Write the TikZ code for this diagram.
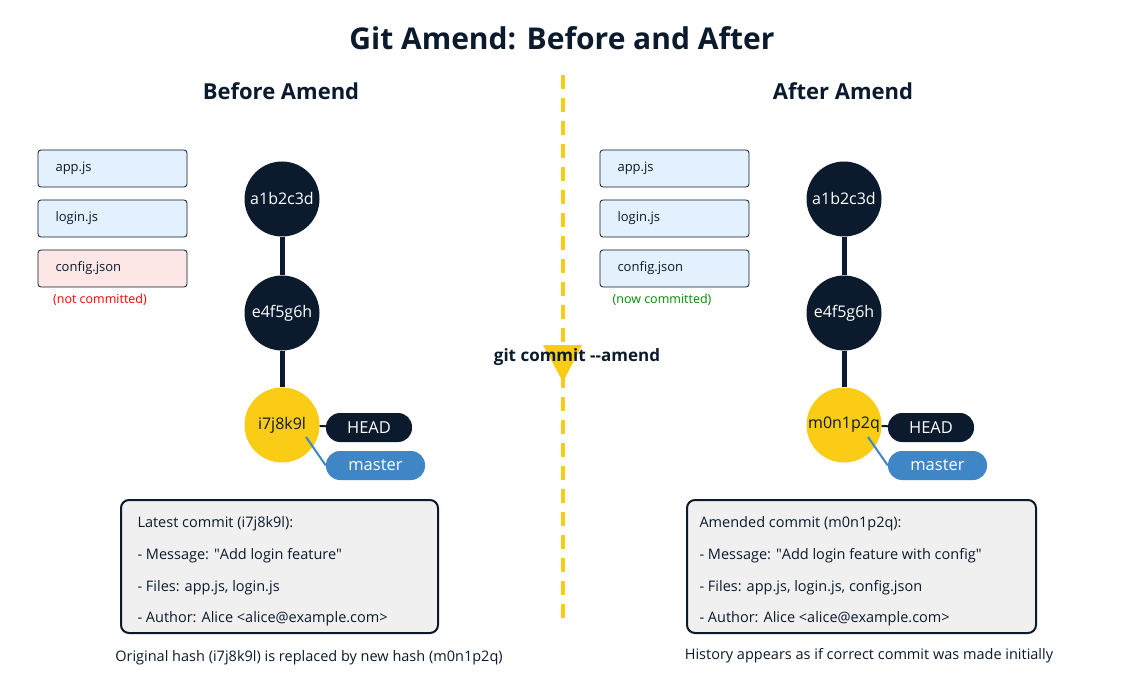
\documentclass[tikz,border=0pt]{standalone}
\usepackage{fontspec}
\setmainfont{Open Sans}
\newfontface\nqface{Open Sans}
\newcommand{\dq}{{\nqface"}}
\begin{document}
\begin{tikzpicture}[x=1pt,y=-1pt,
  dk/.style={fill=dark,draw=none,circle,minimum size=75pt,inner sep=0pt,text=white,font=\fontsize{16}{18}\selectfont},
  yc/.style={fill=gold,draw=none,circle,minimum size=75pt,inner sep=0pt,text=dark,font=\fontsize{16}{18}\selectfont},
  link/.style={line width=5pt,draw=dark},
  pill/.style={rounded corners=14pt,minimum height=29pt,inner sep=0pt,text=white,font=\fontsize{16.5}{18}\selectfont},
  file/.style={draw=dark,line width=0.8pt,rounded corners=3pt,minimum width=149pt,minimum height=37pt,inner sep=0pt},
  ftext/.style={font=\fontsize{13}{15}\selectfont,anchor=west,text=dark},
  info/.style={draw=dark,line width=2pt,fill=infobg,rounded corners=8pt},
  itext/.style={font=\fontsize{14.5}{17}\selectfont,anchor=west,text=dark},
  captxt/.style={font=\fontsize{14.5}{17}\selectfont,text=dark}]
\definecolor{dark}{HTML}{0B1A2C}
\definecolor{gold}{HTML}{FACC15}
\definecolor{blue}{HTML}{3F86C6}
\definecolor{fblue}{HTML}{E3F0FD}
\definecolor{fpink}{HTML}{FDE6E6}
\definecolor{infobg}{HTML}{F0F0F0}
\useasboundingbox[fill=white] (0,0) rectangle (1125,687);
\node[font=\bfseries\fontsize{30}{34}\selectfont,text=dark] (title) at (562,38) {Git Amend: Before and After};
\node[font=\bfseries\fontsize{22}{26}\selectfont,text=dark] (sb) at (281,91) {Before Amend};
\node[font=\bfseries\fontsize{22}{26}\selectfont,text=dark] (sa) at (843,91) {After Amend};
% divider
\coordinate (dtop) at (563,75);
\coordinate (dbot) at (563,625);
\draw[gold,line width=4pt,dash pattern=on 14pt off 9pt] (dtop) -- (dbot);
\coordinate (t1) at (543,345); \coordinate (t2) at (582,345); \coordinate (t3) at (563,382);
\fill[gold] (t1) -- (t2) -- (t3) -- cycle;
\node[font=\bfseries\fontsize{17}{20}\selectfont,text=dark] (cmd) at (577,357) {git commit -{}-amend};
\foreach \s/\ox/\last/\cfill/\lab/\lcol in {L/0/i7j8k9l/fpink/(not committed)/red,R/562/m0n1p2q/fblue/(now committed)/green!55!black}{
  \begin{scope}[xshift=\ox]
  \node[file,fill=fblue] (f1\s) at (112.5,168.5) {};
  \node[ftext] (ft1\s) at (52,168.5) {app.js};
  \node[file,fill=fblue] (f2\s) at (112.5,218.5) {};
  \node[ftext] (ft2\s) at (52,218.5) {login.js};
  \node[file,fill=\cfill] (f3\s) at (112.5,268.5) {};
  \node[ftext] (ft3\s) at (52,268.5) {config.json};
  \node[font=\fontsize{12.5}{14}\selectfont,text=\lcol] (nl\s) at (100,300) {\lab};
  \node[dk] (c1\s) at (282,199) {a1b2c3d};
  \node[dk] (c2\s) at (282,313) {e4f5g6h};
  \node[yc] (c3\s) at (282,425) {\last};
  \draw[link] (c1\s) -- (c2\s);
  \draw[link] (c2\s) -- (c3\s);
  \node[pill,fill=dark,minimum width=86pt] (head\s) at (369,427.5) {HEAD};
  \node[pill,fill=blue,minimum width=99pt] (mas\s) at (375.5,465.5) {master};
  \draw[dark,line width=2pt] (c3\s) -- (head\s);
  \coordinate (mo\s) at (306,437);
  \draw[blue,line width=2pt] (mo\s) -- (mas\s.west);
  \end{scope}
}
\draw[info] (121,500) rectangle (438,633);
\node[itext] (l1) at (134,524) {Latest commit (i7j8k9l):};
\node[itext] (l2) at (134,556) {- Message: \dq Add login feature\dq};
\node[itext] (l3) at (134,588) {- Files: app.js, login.js};
\node[itext] (l4) at (134,619) {- Author: Alice <alice@example.com>};
\draw[info] (687,500) rectangle (1036,633);
\node[itext] (r1) at (696,524) {Amended commit (m0n1p2q):};
\node[itext] (r2) at (696,556) {- Message: \dq Add login feature with config\dq};
\node[itext] (r3) at (696,588) {- Files: app.js, login.js, config.json};
\node[itext] (r4) at (696,619) {- Author: Alice <alice@example.com>};
\node[captxt] (capL) at (309,658) {Original hash (i7j8k9l) is replaced by new hash (m0n1p2q)};
\node[captxt] (capR) at (869,656) {History appears as if correct commit was made initially};
\end{tikzpicture}
\end{document}
